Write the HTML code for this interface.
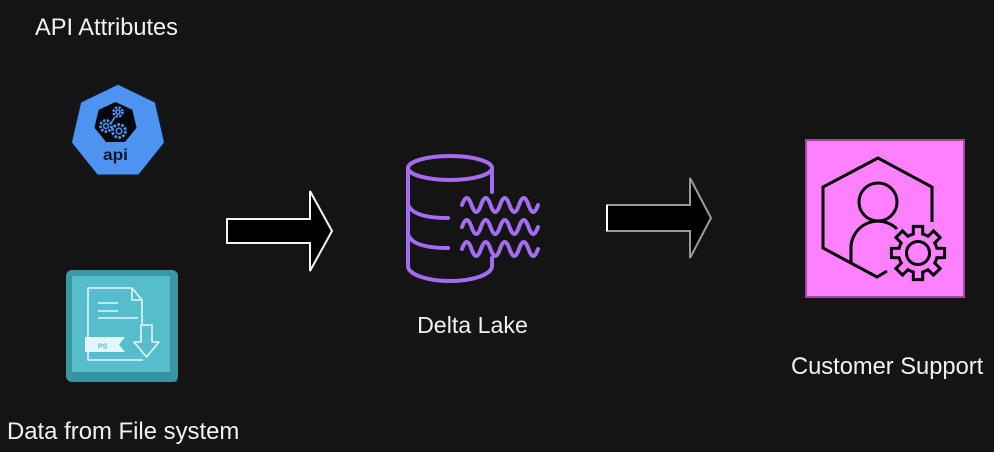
<!DOCTYPE html>
<html>
<head>
<meta charset="utf-8">
<style>
  html,body{margin:0;padding:0;background:#141414;}
  svg{display:block;}
  text{font-family:"Liberation Sans",Arial,sans-serif;fill:#f2f2f2;}
</style>
</head>
<body>
<svg width="994" height="452" viewBox="0 0 994 452" xmlns="http://www.w3.org/2000/svg">
  <rect x="0" y="0" width="994" height="452" fill="#141414"/>

  <!-- Labels -->
  <text x="35" y="35" font-size="23.6">API Attributes</text>
  <text x="7" y="439" font-size="23.9">Data from File system</text>
  <text x="472.5" y="333" font-size="23.2" text-anchor="middle">Delta Lake</text>
  <text x="791" y="374" font-size="23.7">Customer Support</text>

  <!-- API icon -->
  <polygon points="118,84 155.5,102.1 164.8,142.7 138.8,175.2 97.2,175.2 71.2,142.7 80.5,102.1"
           fill="#4f93f0" stroke="#0e1a2c" stroke-width="1.5" stroke-linejoin="round"/>
  <polygon points="115.5,103 131.5,110.5 135.5,127.5 124.5,141 106.5,141 95.5,127.5 99.5,110.5"
           fill="#06080f" stroke="#06080f" stroke-width="2" stroke-linejoin="round"/>
  <g fill="none" stroke="#4f93f0" stroke-width="1.6">
    <circle cx="118" cy="112" r="4.5" stroke-dasharray="2.2 1.4" stroke-width="2.6"/>
    <circle cx="118" cy="112" r="2"/>
    <circle cx="106" cy="126" r="5.5" stroke-dasharray="2.4 1.4" stroke-width="2.8"/>
    <circle cx="106" cy="126" r="2.4"/>
    <circle cx="119" cy="131" r="6.5" stroke-dasharray="2.6 1.5" stroke-width="2.8"/>
    <circle cx="119" cy="131" r="2.8"/>
    <line x1="111" y1="123" x2="115" y2="117"/>
  </g>
  <text x="115.5" y="160" font-size="16" font-weight="bold" text-anchor="middle" style="fill:#0c1628" textLength="25" lengthAdjust="spacingAndGlyphs">api</text>

  <!-- File system icon -->
  <rect x="66" y="270" width="112" height="112" rx="6" fill="#3a98a5"/>
  <rect x="72" y="276" width="98" height="96" fill="#56bdcc"/>
  <polygon points="72,372 170,372 178,382 72,382" fill="#3590a0" opacity="0.6"/>
  <g fill="none" stroke="#e4f6f8" stroke-width="1.6" stroke-linejoin="round">
    <path d="M88,337 L88,288 L132,288 L142,300 L142,325"/>
    <path d="M132,288 L132,300 L142,300"/>
    <path d="M88,352 L88,360 L143,360"/>
    <path d="M141,325 L152,325 L152,342 L159,342 L146.5,357 L134,342 L141,342 Z"/>
    <line x1="98" y1="303" x2="118" y2="303"/>
    <line x1="98" y1="311" x2="118" y2="311"/>
    <line x1="98" y1="318" x2="138" y2="318"/>
  </g>
  <polygon points="85,337 125,337 119,344.5 125,352 85,352" fill="#e4f6f8"/>
  <text x="98" y="348.5" font-size="7" font-weight="bold" style="fill:#56bdcc">PS</text>

  <!-- Arrow 1 -->
  <polygon points="227,219 310,219 310,191 332,231 310,271 310,243 227,243"
           fill="#000" stroke="#f4f4f4" stroke-width="2" stroke-linejoin="miter"/>

  <!-- Delta Lake icon -->
  <g fill="none" stroke="#a46cf0" stroke-width="4" stroke-linecap="round">
    <ellipse cx="450" cy="168" rx="42" ry="12"/>
    <path d="M408,168 L408,266 A42,15 0 0 0 492,266 L492,258"/>
    <path d="M492,168 L492,192"/>
    <path d="M408,204 Q412,218 448,218"/>
    <path d="M408,234 Q412,248 448,248"/>
    <path d="M462,205 q4.75,-14 9.5,0 t9.5,0 t9.5,0 t9.5,0 t9.5,0 t9.5,0 t9.5,0 t9.5,0"/>
    <path d="M462,227 q4.75,-14 9.5,0 t9.5,0 t9.5,0 t9.5,0 t9.5,0 t9.5,0 t9.5,0 t9.5,0"/>
    <path d="M462,249 q4.75,-14 9.5,0 t9.5,0 t9.5,0 t9.5,0 t9.5,0 t9.5,0 t9.5,0 t9.5,0"/>
  </g>

  <!-- Arrow 2 -->
  <polygon points="607,205 690,205 690,178 711,218 690,258 690,231 607,231"
           fill="#000" stroke="#9a9a9a" stroke-width="2" stroke-linejoin="miter"/>
  <line x1="607" y1="205" x2="607" y2="231" stroke="#ffffff" stroke-width="2"/>

  <!-- Customer Support icon -->
  <rect x="806" y="140" width="158" height="157" fill="#ff80ff" stroke="#9c4c9c" stroke-width="2"/>
  <g fill="none" stroke="#000" stroke-width="3" stroke-linejoin="miter" stroke-linecap="butt">
    <path d="M932,222 L932,187 L878,158 L823,187 L823,248 L877,277 L887,271"/>
    <circle cx="878" cy="202" r="19"/>
    <path d="M851,263 L851,250 A27,27 0 0 1 897,229"/>
    <g transform="translate(918,253)">
      <circle cx="0" cy="0" r="11.5"/>
      <path d="M-7.46,-18.02 A19.5,19.5 0 0 1 -4.72,-18.92 L-4.69,-26.59 L4.69,-26.59 L4.72,-18.92 A19.5,19.5 0 0 1 7.46,-18.02"/>
      <path transform="rotate(45)" d="M-7.46,-18.02 A19.5,19.5 0 0 1 -4.72,-18.92 L-4.69,-26.59 L4.69,-26.59 L4.72,-18.92 A19.5,19.5 0 0 1 7.46,-18.02"/>
      <path transform="rotate(90)" d="M-7.46,-18.02 A19.5,19.5 0 0 1 -4.72,-18.92 L-4.69,-26.59 L4.69,-26.59 L4.72,-18.92 A19.5,19.5 0 0 1 7.46,-18.02"/>
      <path transform="rotate(135)" d="M-7.46,-18.02 A19.5,19.5 0 0 1 -4.72,-18.92 L-4.69,-26.59 L4.69,-26.59 L4.72,-18.92 A19.5,19.5 0 0 1 7.46,-18.02"/>
      <path transform="rotate(180)" d="M-7.46,-18.02 A19.5,19.5 0 0 1 -4.72,-18.92 L-4.69,-26.59 L4.69,-26.59 L4.72,-18.92 A19.5,19.5 0 0 1 7.46,-18.02"/>
      <path transform="rotate(225)" d="M-7.46,-18.02 A19.5,19.5 0 0 1 -4.72,-18.92 L-4.69,-26.59 L4.69,-26.59 L4.72,-18.92 A19.5,19.5 0 0 1 7.46,-18.02"/>
      <path transform="rotate(270)" d="M-7.46,-18.02 A19.5,19.5 0 0 1 -4.72,-18.92 L-4.69,-26.59 L4.69,-26.59 L4.72,-18.92 A19.5,19.5 0 0 1 7.46,-18.02"/>
      <path transform="rotate(315)" d="M-7.46,-18.02 A19.5,19.5 0 0 1 -4.72,-18.92 L-4.69,-26.59 L4.69,-26.59 L4.72,-18.92 A19.5,19.5 0 0 1 7.46,-18.02"/>
    </g>
  </g>
</svg>
</body>
</html>
